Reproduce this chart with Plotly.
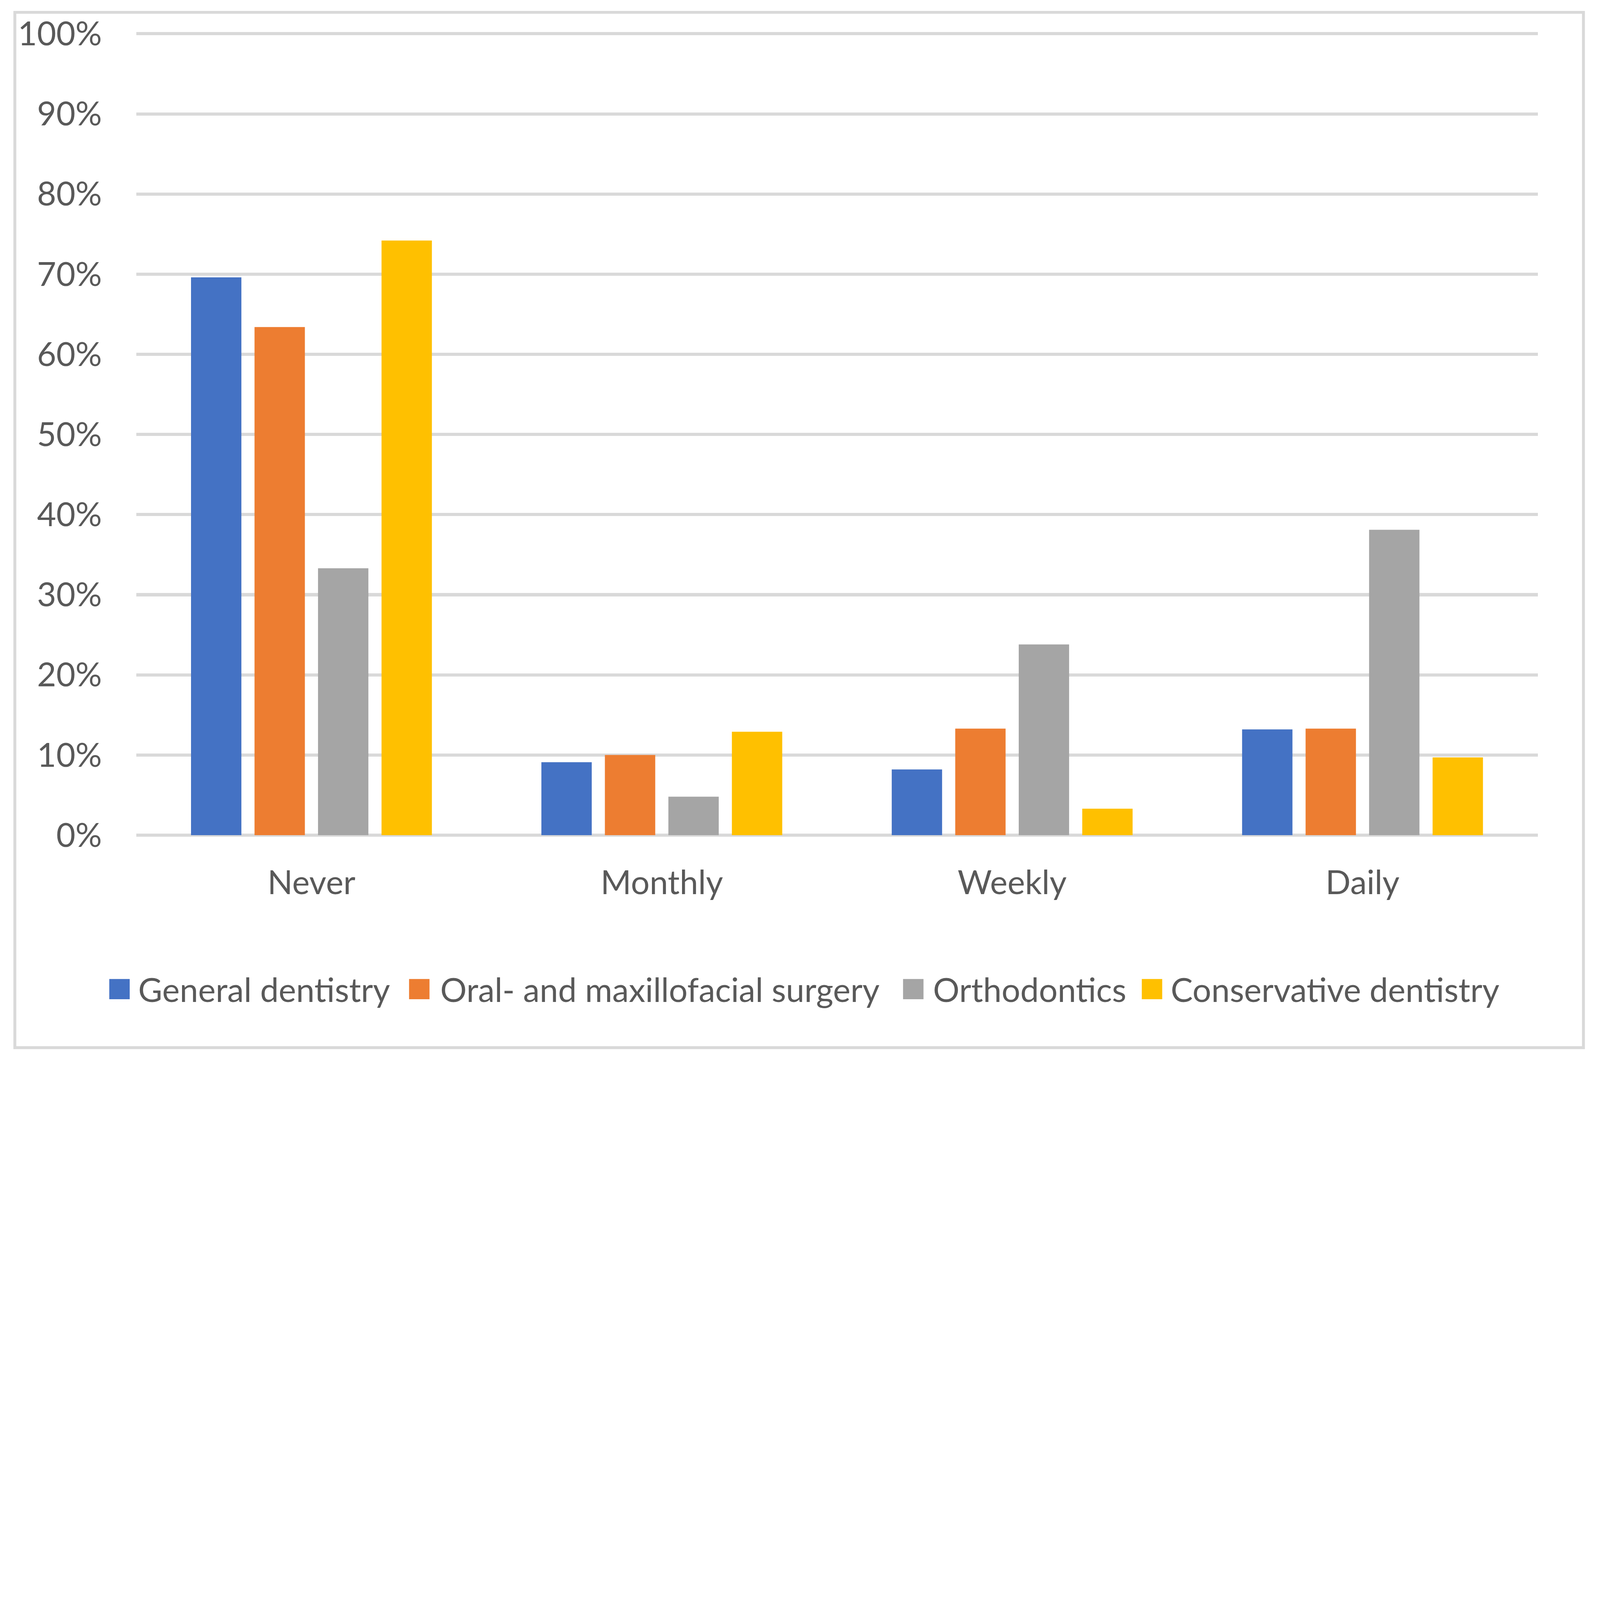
import plotly.graph_objects as go

categories = ["Never", "Monthly", "Weekly", "Daily"]
series_names = ["General dentistry", "Oral- and maxillofacial surgery", "Orthodontics", "Conservative dentistry"]
general = [69.6, 9.1, 8.2, 13.2]
oral = [63.4, 10.0, 13.3, 13.3]
ortho = [33.3, 4.8, 23.8, 38.1]
conservative = [74.2, 12.9, 3.3, 9.7]
colors = ["#4472C4", "#ED7D31", "#A5A5A5", "#FFC000"]
y_ticks = [0, 10, 20, 30, 40, 50, 60, 70, 80, 90, 100]
y_tick_labels = ["0%", "10%", "20%", "30%", "40%", "50%", "60%", "70%", "80%", "90%", "100%"]

W, H = 6575, 4357
Y_TOP_PX, Y_ZERO_PX = 139, 3432          # pixel rows of the 100% and 0% gridlines
Y_MAX = 100.6                            # a little headroom so the 100% gridline is drawn
UNIT = (Y_ZERO_PX - Y_TOP_PX) / 100.0
L, R = 560, 6575 - 6319
T = Y_TOP_PX - (Y_MAX - 100) * UNIT
B = H - Y_ZERO_PX
PW, PH = W - L - R, H - T - B
FONT = "Lato"
FS = 136
TXT = "#595959"


def px(xp):
    return (xp - L) / PW


def py(yp):
    return (H - B - yp) / PH


fig = go.Figure()
for name, vals, col in zip(series_names, [general, oral, ortho, conservative], colors):
    fig.add_trace(go.Bar(x=categories, y=vals, name=name, marker=dict(color=col, line=dict(width=0)),
                         showlegend=False))

shapes = [dict(type="rect", xref="paper", yref="paper", x0=px(61), x1=px(6507), y0=py(51), y1=py(4305),
               line=dict(color="#D9D9D9", width=12), fillcolor="rgba(0,0,0,0)", layer="below")]
annotations = []
# manual legend (squares and labels), laid out left to right
sq_x = [449, 1681, 3711, 4692]
txt_x = [566, 1807, 3832, 4809]
for name, col, sx, tx in zip(series_names, colors, sq_x, txt_x):
    shapes.append(dict(type="rect", xref="paper", yref="paper", x0=px(sx), x1=px(sx + 84),
                       y0=py(4106), y1=py(4023), line=dict(width=0), fillcolor=col))
    annotations.append(dict(xref="paper", yref="paper", x=px(tx), y=py(4064), xanchor="left", yanchor="middle",
                            text=name, showarrow=False, font=dict(family=FONT, size=FS, color=TXT)))

fig.update_layout(
    width=W, height=H,
    margin=dict(l=L, r=R, t=T, b=B, pad=0),
    paper_bgcolor="white", plot_bgcolor="white",
    barmode="group", bargap=0.275, bargroupgap=0.207,
    font=dict(family=FONT, size=FS, color=TXT),
    shapes=shapes, annotations=annotations,
    showlegend=False,
)
fig.update_xaxes(showgrid=False, showline=False, zeroline=False, ticks="", ticklabelstandoff=105,
                 tickfont=dict(family=FONT, size=FS, color=TXT))
fig.update_yaxes(range=[0, Y_MAX], tickmode="array", tickvals=y_ticks, ticktext=y_tick_labels,
                 showgrid=True, gridcolor="#D9D9D9",
                 gridwidth=13, zeroline=True, zerolinecolor="#D9D9D9", zerolinewidth=13, showline=False,
                 ticks="", ticklabelstandoff=140, tickfont=dict(family=FONT, size=FS, color=TXT))

# the browser may cap the window size; scale the whole figure uniformly so it always fits
post = """
document.body.style.margin='0';
document.body.style.overflow='hidden';
var gd = document.getElementById('{plot_id}');
var s = Math.min(window.innerWidth / %d, window.innerHeight / %d, 1);
gd.style.transformOrigin = '0 0';
gd.style.transform = 'scale(' + s + ')';
""" % (W, H)
fig.write_html("out.html", post_script=post, config={"displayModeBar": False})
